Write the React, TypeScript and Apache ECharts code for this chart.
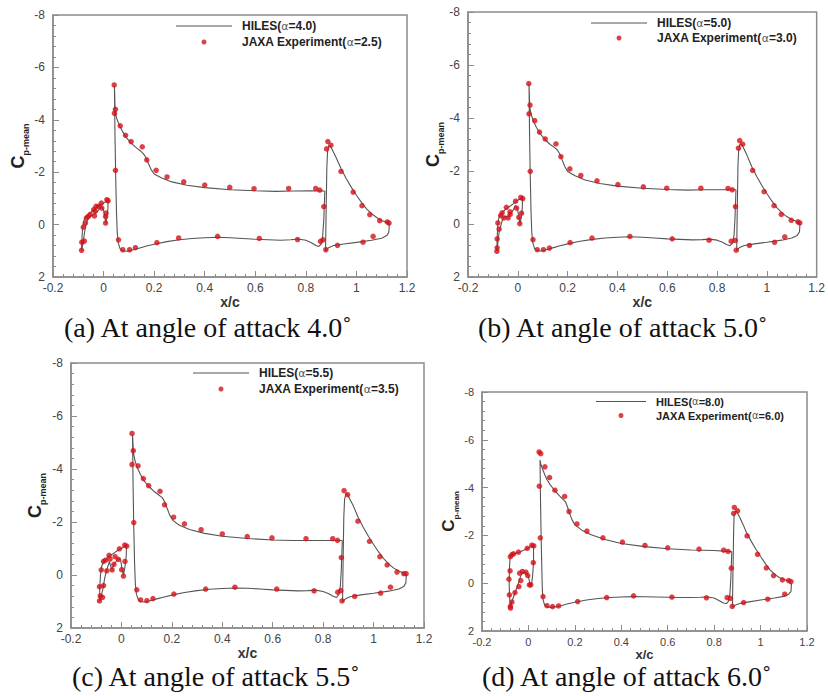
import React, { useEffect, useRef } from "react";
import * as echarts from "echarts";

// ---------- tick labels ----------
const xTicks = [-0.2, 0, 0.2, 0.4, 0.6, 0.8, 1, 1.2];
const yTicks = [-8, -6, -4, -2, 0, 2];

// ---------- legend names & captions ----------
const hilesNames = ["HILES(α=4.0)", "HILES(α=5.0)", "HILES(α=5.5)", "HILES(α=8.0)"];
const jaxaNames = [
  "JAXA Experiment(α=2.5)",
  "JAXA Experiment(α=3.0)",
  "JAXA Experiment(α=3.5)",
  "JAXA Experiment(α=6.0)",
];
const captions = [
  "(a) At angle of attack 4.0˚",
  "(b) At angle of attack 5.0˚",
  "(c) At angle of attack 5.5˚",
  "(d) At angle of attack 6.0˚",
];

// ---------- panel (a) ----------
const slatLineA = [
  [-0.087, 1.0], [-0.086, 0.6], [-0.083, 0.15], [-0.079, -0.12], [-0.072, -0.27], [-0.063, -0.36],
  [-0.053, -0.44], [-0.043, -0.53], [-0.033, -0.62], [-0.022, -0.7], [-0.011, -0.77], [0.0, -0.82],
  [0.01, -0.87], [0.018, -0.93], [0.017, -0.6], [0.013, -0.25], [0.009, -0.06], [0.005, -0.28],
  [0.0, -0.55], [-0.008, -0.68], [-0.016, -0.6], [-0.026, -0.48], [-0.038, -0.4], [-0.05, -0.33],
  [-0.062, -0.2], [-0.07, 0.0], [-0.076, 0.35], [-0.081, 0.7], [-0.087, 1.0],
];
const mainLineA = [
  [0.875, -1.28], [0.82, -1.29], [0.75, -1.28], [0.68, -1.27], [0.6, -1.29], [0.5, -1.33],
  [0.4, -1.41], [0.33, -1.5], [0.27, -1.63], [0.23, -1.78], [0.2, -1.93], [0.188, -2.1],
  [0.178, -2.32], [0.168, -2.55], [0.158, -2.7], [0.145, -2.82], [0.13, -2.93], [0.11, -3.1],
  [0.09, -3.32], [0.075, -3.55], [0.062, -3.8], [0.052, -4.05], [0.046, -4.3], [0.043, -5.3],
  [0.045, -3.5], [0.048, -1.8], [0.051, -0.5], [0.054, 0.3], [0.058, 0.7], [0.065, 0.92],
  [0.075, 1.0], [0.09, 1.02], [0.11, 0.98], [0.14, 0.9], [0.17, 0.82], [0.2, 0.75], [0.25, 0.65],
  [0.3, 0.58], [0.35, 0.53], [0.4, 0.5], [0.45, 0.48], [0.5, 0.5], [0.55, 0.53], [0.6, 0.56],
  [0.65, 0.58], [0.7, 0.6], [0.74, 0.58], [0.77, 0.55], [0.8, 0.6], [0.82, 0.68], [0.84, 0.8],
  [0.85, 0.84], [0.86, 0.75], [0.866, 0.5], [0.871, -0.2], [0.875, -1.28],
];
const flapLineA = [
  [0.878, 1.0], [0.879, 0.2], [0.881, -1.0], [0.883, -2.2], [0.886, -2.8], [0.891, -3.0],
  [0.897, -3.0], [0.905, -2.85], [0.92, -2.55], [0.94, -2.12], [0.96, -1.75], [0.98, -1.42],
  [1.0, -1.12], [1.02, -0.85], [1.04, -0.6], [1.06, -0.42], [1.08, -0.27], [1.1, -0.16],
  [1.12, -0.08], [1.13, 0.0], [1.128, 0.3], [1.12, 0.42], [1.1, 0.52], [1.06, 0.6], [1.0, 0.68],
  [0.95, 0.74], [0.91, 0.8], [0.89, 0.88], [0.878, 1.0],
];
const expA = [
  [0.042, -5.33], [0.047, -4.4], [0.043, -4.25], [0.066, -3.77], [0.087, -3.41], [0.109, -3.17],
  [0.153, -2.97], [0.171, -2.47], [0.208, -2.07], [0.251, -1.82], [0.317, -1.63], [0.4, -1.51],
  [0.499, -1.42], [0.595, -1.37], [0.732, -1.38], [0.839, -1.38], [0.855, -1.32], [0.047, -2.07],
  [0.059, 0.58], [0.076, 0.96], [0.103, 0.96], [0.126, 0.88], [0.211, 0.69], [0.297, 0.51],
  [0.451, 0.45], [0.616, 0.53], [0.767, 0.57], [0.858, 0.64], [0.868, 0.58],
  [0.871, -0.69], [0.879, 0.96], [0.882, -2.89], [0.887, -3.17], [0.899, -3.03], [0.939, -2.03],
  [0.987, -1.24], [1.022, -0.72], [1.053, -0.38], [1.092, -0.15], [1.122, -0.1], [1.129, -0.06],
  [1.066, 0.45], [1.026, 0.67], [0.925, 0.79],
  [-0.087, 0.98], [-0.086, 0.67], [-0.08, 0.1], [-0.076, 0.63], [-0.072, -0.06], [-0.068, -0.25],
  [-0.061, -0.31], [-0.053, -0.39], [-0.039, -0.57], [-0.036, -0.33], [-0.03, -0.7], [-0.02, -0.7],
  [-0.033, -0.51], [-0.009, -0.82], [-0.007, -0.63], [0.008, -0.31], [0.008, -0.06], [0.01, -0.44],
  [0.013, -0.95], [0.018, -0.91],
];

// ---------- panel (b) ----------
const slatLineB = [
  [-0.084, 1.03], [-0.083, 0.6], [-0.081, 0.1], [-0.077, -0.2], [-0.07, -0.33], [-0.06, -0.45],
  [-0.05, -0.55], [-0.04, -0.62], [-0.03, -0.68], [-0.02, -0.75], [-0.01, -0.83], [0.0, -0.9],
  [0.01, -0.95], [0.019, -1.0], [0.018, -0.6], [0.014, -0.25], [0.009, -0.02], [0.004, -0.3],
  [-0.002, -0.58], [-0.01, -0.7], [-0.02, -0.5], [-0.03, -0.38], [-0.04, -0.25], [-0.05, -0.3],
  [-0.06, -0.2], [-0.068, 0.05], [-0.075, 0.3], [-0.08, 0.7], [-0.084, 1.03],
];
const mainLineB = [
  [0.876, -1.29], [0.82, -1.29], [0.75, -1.29], [0.68, -1.28], [0.6, -1.3], [0.5, -1.35],
  [0.4, -1.43], [0.33, -1.53], [0.27, -1.66], [0.23, -1.82], [0.2, -1.98], [0.188, -2.18],
  [0.178, -2.42], [0.168, -2.65], [0.158, -2.8], [0.145, -2.9], [0.13, -3.0], [0.11, -3.18],
  [0.09, -3.4], [0.075, -3.64], [0.062, -3.9], [0.053, -4.15], [0.048, -4.4], [0.045, -5.3],
  [0.047, -3.5], [0.05, -1.8], [0.053, -0.5], [0.056, 0.3], [0.06, 0.7], [0.067, 0.92],
  [0.077, 1.0], [0.09, 1.02], [0.11, 0.98], [0.14, 0.9], [0.17, 0.82], [0.2, 0.75], [0.25, 0.65],
  [0.3, 0.58], [0.35, 0.53], [0.4, 0.5], [0.45, 0.48], [0.5, 0.5], [0.55, 0.53], [0.6, 0.56],
  [0.65, 0.58], [0.7, 0.6], [0.74, 0.59], [0.77, 0.57], [0.8, 0.61], [0.82, 0.68], [0.84, 0.78],
  [0.852, 0.82], [0.862, 0.72], [0.868, 0.45], [0.872, -0.2], [0.876, -1.29],
];
const flapLineB = [
  [0.879, 1.0], [0.88, 0.2], [0.882, -1.0], [0.884, -2.2], [0.887, -2.82], [0.892, -3.02],
  [0.898, -3.02], [0.906, -2.88], [0.92, -2.6], [0.94, -2.15], [0.96, -1.78], [0.98, -1.45],
  [1.0, -1.15], [1.02, -0.87], [1.04, -0.62], [1.06, -0.43], [1.08, -0.28], [1.1, -0.17],
  [1.12, -0.09], [1.133, 0.0], [1.131, 0.3], [1.122, 0.43], [1.1, 0.53], [1.06, 0.61], [1.0, 0.69],
  [0.95, 0.75], [0.91, 0.81], [0.89, 0.89], [0.879, 1.0],
];
const expB = [
  [0.044, -5.3], [0.049, -4.49], [0.045, -4.16], [0.068, -3.9], [0.087, -3.47], [0.11, -3.21],
  [0.153, -3.02], [0.173, -2.54], [0.209, -2.08], [0.253, -1.83], [0.318, -1.63], [0.402, -1.49],
  [0.504, -1.4], [0.598, -1.35], [0.735, -1.35], [0.844, -1.34], [0.861, -1.29], [0.05, -1.99],
  [0.061, 0.59], [0.078, 0.97], [0.103, 0.97], [0.127, 0.91], [0.21, 0.7], [0.298, 0.53],
  [0.45, 0.47], [0.62, 0.56], [0.768, 0.61], [0.857, 0.65], [0.873, 0.62],
  [0.874, -0.66], [0.877, 0.99], [0.886, -2.86], [0.891, -3.15], [0.903, -3.01], [0.943, -2.02],
  [0.989, -1.22], [1.029, -0.69], [1.058, -0.36], [1.098, -0.14], [1.125, -0.08], [1.132, -0.04],
  [1.072, 0.49], [1.031, 0.69], [0.93, 0.81],
  [-0.084, 1.03], [-0.083, 0.9], [-0.083, 0.56], [-0.08, -0.04], [-0.075, 0.19], [-0.069, -0.32],
  [-0.063, -0.42], [-0.056, -0.23], [-0.046, -0.63], [-0.039, -0.23], [-0.031, -0.36],
  [-0.031, -0.46], [-0.009, -0.86], [-0.005, -0.6], [0.004, -0.25], [0.008, -0.01], [0.015, -0.41],
  [0.012, -1.0], [0.02, -0.96],
];

// ---------- panel (c) ----------
const slatLineC = [
  [-0.087, 0.98], [-0.086, 0.5], [-0.083, 0.0], [-0.079, -0.3], [-0.072, -0.48], [-0.063, -0.57],
  [-0.053, -0.68], [-0.043, -0.75], [-0.033, -0.8], [-0.022, -0.88], [-0.011, -0.95], [0.0, -1.0],
  [0.01, -1.07], [0.02, -1.12], [0.019, -0.7], [0.014, -0.3], [0.008, 0.0], [0.003, -0.2],
  [-0.003, -0.55], [-0.012, -0.62], [-0.022, -0.5], [-0.03, -0.4], [-0.038, -0.2], [-0.048, -0.5],
  [-0.058, -0.2], [-0.066, 0.1], [-0.073, 0.5], [-0.08, 0.8], [-0.087, 0.98],
];
const mainLineC = [
  [0.876, -1.3], [0.82, -1.3], [0.75, -1.3], [0.68, -1.3], [0.6, -1.32], [0.5, -1.38],
  [0.4, -1.46], [0.33, -1.57], [0.27, -1.72], [0.23, -1.88], [0.205, -2.05], [0.192, -2.25],
  [0.182, -2.5], [0.172, -2.75], [0.162, -2.92], [0.148, -3.02], [0.13, -3.15], [0.11, -3.33],
  [0.09, -3.55], [0.075, -3.8], [0.063, -4.05], [0.054, -4.3], [0.048, -4.6], [0.044, -5.3],
  [0.046, -3.5], [0.049, -1.8], [0.052, -0.5], [0.055, 0.3], [0.059, 0.7], [0.066, 0.92],
  [0.076, 1.0], [0.09, 1.02], [0.11, 0.98], [0.14, 0.9], [0.17, 0.83], [0.2, 0.76], [0.25, 0.66],
  [0.3, 0.59], [0.35, 0.54], [0.4, 0.51], [0.45, 0.49], [0.5, 0.5], [0.55, 0.53], [0.6, 0.56],
  [0.65, 0.58], [0.7, 0.6], [0.74, 0.59], [0.77, 0.57], [0.8, 0.62], [0.82, 0.7], [0.84, 0.8],
  [0.853, 0.85], [0.862, 0.74], [0.868, 0.45], [0.872, -0.2], [0.876, -1.3],
];
const flapLineC = [
  [0.877, 1.0], [0.878, 0.2], [0.88, -1.0], [0.882, -2.2], [0.885, -2.85], [0.89, -3.05],
  [0.896, -3.05], [0.904, -2.9], [0.92, -2.6], [0.94, -2.15], [0.96, -1.78], [0.98, -1.45],
  [1.0, -1.15], [1.02, -0.87], [1.04, -0.62], [1.06, -0.42], [1.08, -0.26], [1.1, -0.15],
  [1.12, -0.07], [1.13, 0.0], [1.128, 0.3], [1.12, 0.43], [1.1, 0.53], [1.06, 0.61], [1.0, 0.69],
  [0.95, 0.75], [0.91, 0.81], [0.89, 0.89], [0.877, 1.0],
];
const expC = [
  [0.042, -5.34], [0.047, -4.69], [0.042, -4.17], [0.066, -4.12], [0.087, -3.64], [0.108, -3.37],
  [0.153, -3.16], [0.171, -2.65], [0.207, -2.18], [0.25, -1.93], [0.316, -1.71], [0.4, -1.55],
  [0.499, -1.45], [0.597, -1.4], [0.732, -1.37], [0.838, -1.37], [0.857, -1.31], [0.049, -1.98],
  [0.061, 0.56], [0.076, 0.94], [0.101, 0.97], [0.125, 0.89], [0.208, 0.72], [0.334, 0.53],
  [0.45, 0.46], [0.616, 0.53], [0.764, 0.6], [0.858, 0.65], [0.87, 0.59],
  [0.872, -0.66], [0.875, 0.98], [0.883, -3.18], [0.897, -3.03], [0.938, -2.03], [0.984, -1.27],
  [1.025, -0.69], [1.054, -0.38], [1.093, -0.11], [1.12, -0.05], [1.129, -0.05], [1.067, 0.46],
  [1.028, 0.68], [0.925, 0.81],
  [-0.087, 0.98], [-0.087, 0.44], [-0.084, 0.79], [-0.08, -0.19], [-0.075, 0.84], [-0.071, 0.4],
  [-0.071, -0.51], [-0.063, -0.56], [-0.058, -0.16], [-0.049, -0.74], [-0.045, -0.6],
  [-0.037, -0.19], [-0.03, -0.4], [-0.025, -0.69], [-0.012, -0.59], [-0.008, -0.99], [0.001, -0.2],
  [0.008, 0.04], [0.014, -0.51], [0.013, -1.13], [0.021, -1.09],
];

// ---------- panel (d) ----------
const slatLineD = [
  [-0.078, 1.02], [-0.081, 0.6], [-0.083, 0.0], [-0.082, -0.6], [-0.079, -1.08], [-0.072, -1.18],
  [-0.062, -1.22], [-0.05, -1.26], [-0.035, -1.32], [-0.02, -1.38], [-0.005, -1.45], [0.01, -1.53],
  [0.022, -1.58], [0.022, -0.9], [0.018, -0.3], [0.013, 0.08], [0.008, 0.1], [0.003, -0.15],
  [-0.003, -0.35], [-0.012, -0.45], [-0.022, -0.45], [-0.032, -0.35], [-0.04, -0.1],
  [-0.048, 0.15], [-0.058, 0.4], [-0.067, 0.65], [-0.074, 0.85], [-0.078, 1.02],
];
const mainLineD = [
  [0.876, -1.32], [0.8, -1.37], [0.7, -1.39], [0.6, -1.44], [0.5, -1.53], [0.4, -1.66],
  [0.33, -1.83], [0.27, -2.03], [0.23, -2.22], [0.2, -2.45], [0.188, -2.65], [0.178, -2.9],
  [0.168, -3.2], [0.16, -3.4], [0.15, -3.5], [0.13, -3.7], [0.11, -3.92], [0.095, -4.1],
  [0.08, -4.33], [0.07, -4.55], [0.06, -4.8], [0.053, -5.0], [0.05, -5.15], [0.052, -3.5],
  [0.055, -1.8], [0.058, -0.5], [0.06, 0.3], [0.063, 0.7], [0.07, 0.92], [0.08, 0.99],
  [0.095, 1.01], [0.115, 0.99], [0.14, 0.94], [0.17, 0.86], [0.2, 0.8], [0.25, 0.7], [0.3, 0.64],
  [0.35, 0.6], [0.4, 0.58], [0.45, 0.56], [0.5, 0.57], [0.55, 0.58], [0.6, 0.59], [0.65, 0.6],
  [0.7, 0.6], [0.74, 0.59], [0.77, 0.58], [0.8, 0.62], [0.82, 0.72], [0.84, 0.83], [0.853, 0.85],
  [0.862, 0.75], [0.868, 0.45], [0.872, -0.2], [0.876, -1.32],
];
const flapLineD = [
  [0.879, 1.0], [0.88, 0.2], [0.882, -1.0], [0.884, -2.2], [0.886, -2.85], [0.891, -3.0],
  [0.897, -3.0], [0.905, -2.85], [0.915, -2.65], [0.925, -2.45], [0.94, -2.1], [0.96, -1.75],
  [0.98, -1.42], [1.0, -1.12], [1.02, -0.83], [1.04, -0.57], [1.06, -0.38], [1.08, -0.24],
  [1.1, -0.15], [1.12, -0.1], [1.133, 0.05], [1.131, 0.35], [1.12, 0.47], [1.1, 0.55],
  [1.06, 0.62], [1.0, 0.7], [0.95, 0.78], [0.91, 0.85], [0.89, 0.92], [0.879, 1.0],
];
const expD = [
  [0.046, -5.49], [0.053, -5.42], [0.047, -4.06], [0.071, -4.87], [0.091, -4.42], [0.114, -3.89],
  [0.156, -3.63], [0.175, -3.0], [0.209, -2.48], [0.252, -2.18], [0.321, -1.9], [0.405, -1.72],
  [0.502, -1.58], [0.6, -1.48], [0.735, -1.43], [0.841, -1.38], [0.86, -1.33], [0.051, -1.9],
  [0.063, 0.56], [0.08, 0.94], [0.104, 0.98], [0.13, 0.95], [0.212, 0.77], [0.337, 0.6],
  [0.453, 0.53], [0.618, 0.58], [0.767, 0.61], [0.856, 0.6], [0.87, 0.63],
  [0.874, -0.63], [0.878, 0.97], [0.884, -2.92], [0.887, -3.17], [0.901, -3.03], [0.942, -1.98],
  [0.987, -1.21], [1.025, -0.64], [1.056, -0.32], [1.094, -0.14], [1.121, -0.11], [1.131, -0.07],
  [1.104, 0.46], [1.031, 0.67], [0.927, 0.81],
  [-0.078, 0.97], [-0.077, 1.04], [-0.082, 0.49], [-0.084, -0.17], [-0.079, -0.52],
  [-0.078, -1.11], [-0.071, -1.2], [-0.064, -1.23], [-0.043, -1.3], [-0.005, -1.46],
  [0.015, -1.59], [0.023, -1.56], [0.021, -0.86], [-0.071, 0.79], [-0.058, 0.39], [-0.041, 0.14],
  [-0.038, -0.42], [-0.033, -0.11], [-0.026, -0.49], [-0.011, -0.46], [-0.003, -0.32],
  [0.004, 0.07], [0.01, 0.07],
];

const lineSets = [
  [slatLineA, mainLineA, flapLineA],
  [slatLineB, mainLineB, flapLineB],
  [slatLineC, mainLineC, flapLineC],
  [slatLineD, mainLineD, flapLineD],
];
const expSets = [expA, expB, expC, expD];

// ---------- layout (pixels) ----------
const panels = [
  { left: 53, top: 15, w: 354, h: 262, fs: 12, nameGap: 20, lgLeft: 176, lgTop1: 19, lgTop2: 35, lgW: 56, lgFs: 12, capX: 64, capY: 327 },
  { left: 468, top: 12, w: 354, h: 265, fs: 12, nameGap: 21, lgLeft: 591, lgTop1: 16, lgTop2: 31, lgW: 56, lgFs: 12, capX: 478, capY: 327 },
  { left: 71, top: 363, w: 353, h: 265, fs: 12, nameGap: 24, lgLeft: 193, lgTop1: 366, lgTop2: 382, lgW: 56, lgFs: 12, capX: 72, capY: 676 },
  { left: 482, top: 392, w: 325, h: 239, fs: 11, nameGap: 20, lgLeft: 596, lgTop1: 395, lgTop2: 409, lgW: 50, lgFs: 11, capX: 482, capY: 676 },
];
const DOT_ICON = 5;

const FRAME = "#8c8c8c";
const LINE = "#555555";
const DOT = "#d31119";

function fmtTick(list: number[]) {
  return (v: number) => {
    const t = list.find((k) => Math.abs(k - v) < 1e-6);
    return t === undefined ? "" : String(t);
  };
}

function legendFmt(name: string) {
  const parts = name.split("α");
  return `{b|${parts[0]}}{g|α}{b|${parts[1]}}`;
}

export default function App() {
  const ref = useRef<HTMLDivElement>(null);

  useEffect(() => {
    if (!ref.current) return;
    const chart = echarts.init(ref.current, undefined, { renderer: "svg" });

    const grid = panels.map((p) => ({
      left: p.left,
      top: p.top,
      width: p.w,
      height: p.h,
      show: true,
      borderColor: FRAME,
      borderWidth: 1.5,
      backgroundColor: "transparent",
      containLabel: false,
    }));

    const xAxis = panels.map((p, i) => ({
      type: "value",
      gridIndex: i,
      min: -0.2,
      max: 1.2,
      interval: 0.2,
      name: "x/c",
      nameLocation: "middle",
      nameGap: 15,
      nameTextStyle: { fontFamily: "Liberation Sans", fontWeight: "bold", fontSize: p.fs + 2, color: "#333" },
      axisLine: { show: true, onZero: false, lineStyle: { color: FRAME, width: 1.5 } },
      axisTick: { show: true, inside: true, length: 6, lineStyle: { color: FRAME } },
      minorTick: { show: true, splitNumber: 5, length: 3, lineStyle: { color: FRAME } },
      splitLine: { show: false },
      axisLabel: {
        margin: 5,
        fontFamily: "Liberation Sans",
        fontSize: p.fs,
        color: "#444",
        formatter: fmtTick(xTicks),
      },
    }));

    const yAxis = panels.map((p, i) => ({
      type: "value",
      gridIndex: i,
      min: -8,
      max: 2,
      interval: 2,
      inverse: true,
      name: "{c|C}{s|p-mean}",
      nameLocation: "middle",
      nameRotate: 90,
      nameGap: p.nameGap,
      nameTextStyle: {
        rich: {
          c: { fontFamily: "Liberation Sans", fontWeight: "bold", fontSize: p.fs + 6, color: "#222", lineHeight: 24 },
          s: { fontFamily: "Liberation Sans", fontWeight: "bold", fontSize: p.fs - 3, color: "#222", lineHeight: 9, verticalAlign: "bottom" },
        },
      },
      axisLine: { show: true, onZero: false, lineStyle: { color: FRAME, width: 1.5 } },
      axisTick: { show: true, inside: true, length: 6, lineStyle: { color: FRAME } },
      minorTick: { show: true, splitNumber: 5, length: 3, lineStyle: { color: FRAME } },
      splitLine: { show: false },
      axisLabel: {
        margin: 8,
        fontFamily: "Liberation Sans",
        fontSize: p.fs,
        color: "#444",
        formatter: fmtTick(yTicks),
      },
    }));

    const series: any[] = [];
    panels.forEach((p, i) => {
      lineSets[i].forEach((pts) => {
        series.push({
          type: "line",
          name: hilesNames[i],
          xAxisIndex: i,
          yAxisIndex: i,
          data: pts,
          symbol: "none",
          showSymbol: false,
          smooth: false,
          lineStyle: { color: LINE, width: 1.1 },
          itemStyle: { color: LINE },
          z: 2,
        });
      });
      series.push({
        type: "scatter",
        name: jaxaNames[i],
        xAxisIndex: i,
        yAxisIndex: i,
        data: expSets[i],
        symbol: "circle",
        symbolSize: 5.5,
        itemStyle: { color: DOT },
        z: 3,
      });
    });

    const textStyleFor = (fs: number) => ({
      padding: [0, 0, 0, 5],
      lineHeight: fs + 2,
      rich: {
        b: { fontFamily: "Liberation Sans", fontWeight: "bold", fontSize: fs, color: "#222", lineHeight: fs + 2 },
        g: { fontFamily: "DejaVu Sans", fontSize: fs - 1, color: "#555", lineHeight: fs + 2 },
      },
    });

    const legend: any[] = [];
    panels.forEach((p, i) => {
      legend.push({
        data: [{ name: hilesNames[i], icon: "rect" }],
        orient: "vertical",
        left: p.lgLeft,
        top: p.lgTop1,
        itemWidth: p.lgW,
        itemHeight: 1,
        selectedMode: false,
        padding: 0,
        formatter: legendFmt,
        textStyle: textStyleFor(p.lgFs),
      });
      // the dot legend's box starts at the dot itself, so shift it to centre the dot under the line
      legend.push({
        data: [{ name: jaxaNames[i], icon: "circle" }],
        orient: "vertical",
        left: p.lgLeft + (p.lgW - DOT_ICON) / 2,
        top: p.lgTop2,
        itemWidth: p.lgW,
        itemHeight: DOT_ICON,
        selectedMode: false,
        padding: 0,
        formatter: legendFmt,
        textStyle: textStyleFor(p.lgFs),
      });
    });

    const graphic = panels.map((p, i) => ({
      type: "text",
      x: p.capX,
      y: p.capY,
      silent: true,
      style: {
        text: captions[i],
        fontFamily: "Liberation Serif",
        fontSize: 28,
        fill: "#111",
        align: "left",
        verticalAlign: "middle",
      },
    }));

    chart.setOption({
      animation: false,
      backgroundColor: "#ffffff",
      grid,
      xAxis,
      yAxis,
      legend,
      series,
      graphic,
    } as any);

    return () => chart.dispose();
  }, []);

  return (
    <div
      ref={ref}
      style={{ position: "fixed", left: 0, top: 0, width: 828, height: 696, background: "#fff" }}
    />
  );
}
